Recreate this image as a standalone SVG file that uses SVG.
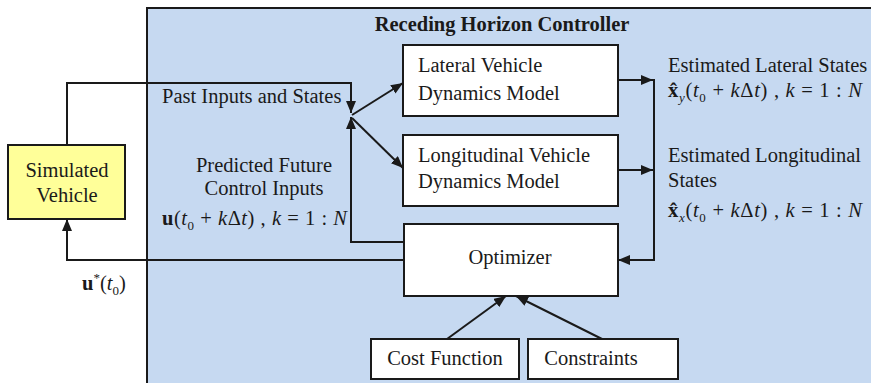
<svg xmlns="http://www.w3.org/2000/svg" width="871" height="383" viewBox="0 0 871 383">
<defs>
<style>
.box{fill:#ffffff;stroke:#1a1a1a;stroke-width:2}
.c{text-anchor:middle}
.ln{fill:none;stroke:#1a1a1a;stroke-width:2}
.i{font-style:italic}
.b{font-weight:bold}
</style>
<marker id="ah" markerWidth="12" markerHeight="10" refX="12" refY="5" orient="auto" markerUnits="userSpaceOnUse">
<path d="M0,0 L12,5 L0,10 z" fill="#1a1a1a"/>
</marker>
</defs>
<rect x="0" y="0" width="871" height="383" fill="#ffffff"/>
<g font-family="Liberation Serif" font-size="20.5" fill="#1a1a1a">
<g id="controller">
<rect x="147" y="8" width="740" height="400" fill="#C6D9F1" stroke="#1a1a1a" stroke-width="2"/>
<text class="b c" x="502" y="31">Receding Horizon Controller</text>
</g>
<g id="vehicle">
<rect x="8" y="145" width="117" height="74" fill="#FFFF99" stroke="#1a1a1a" stroke-width="2"/>
<text class="c" x="67" y="177">Simulated</text>
<text class="c" x="67" y="202">Vehicle</text>
</g>
<g id="lateral">
<rect class="box" x="403" y="45" width="215" height="71"/>
<text x="418" y="72">Lateral Vehicle</text>
<text x="418" y="100">Dynamics Model</text>
</g>
<g id="longitudinal">
<rect class="box" x="403" y="135" width="215" height="71"/>
<text x="418" y="162">Longitudinal Vehicle</text>
<text x="418" y="188">Dynamics Model</text>
</g>
<g id="optimizer">
<rect class="box" x="404" y="224" width="214" height="72"/>
<text class="c" x="510" y="264">Optimizer</text>
</g>
<g id="cost">
<rect class="box" x="371" y="339" width="148" height="40"/>
<text class="c" x="445" y="365">Cost Function</text>
</g>
<g id="constraints">
<rect class="box" x="528" y="339" width="150" height="40"/>
<text class="c" x="591" y="365">Constraints</text>
</g>
<g id="connectors">
<path class="ln" d="M67,145 V83 H351 V113" marker-end="url(#ah)"/>
<path class="ln" d="M404,242 H351 V117" marker-end="url(#ah)"/>
<path class="ln" d="M352,115 L403,83" marker-end="url(#ah)"/>
<path class="ln" d="M352,118 L403,168" marker-end="url(#ah)"/>
<path class="ln" d="M618,80 H653" marker-end="url(#ah)"/>
<path class="ln" d="M618,170 H653" marker-end="url(#ah)"/>
<path class="ln" d="M654,79 V260 H618" marker-end="url(#ah)"/>
<path class="ln" d="M404,260 H67 V219" marker-end="url(#ah)"/>
<path class="ln" d="M447,339 L506,296" marker-end="url(#ah)"/>
<path class="ln" d="M602,339 L516,296" marker-end="url(#ah)"/>
</g>
<g id="labels">
<text x="162" y="103">Past Inputs and States</text>
<text class="c" x="264" y="172">Predicted Future</text>
<text class="c" x="264" y="195">Control Inputs</text>
<text x="162" y="225" textLength="185" lengthAdjust="spacing"><tspan class="b">u</tspan>(<tspan class="i">t</tspan><tspan font-size="13" dy="5">0</tspan><tspan dy="-5"> + </tspan><tspan class="i">k</tspan>Δ<tspan class="i">t</tspan>) , <tspan class="i">k</tspan> = 1 : <tspan class="i">N</tspan></text>
<text x="82" y="290"><tspan class="b">u</tspan><tspan font-size="13" dy="-8">*</tspan><tspan dy="8">(</tspan><tspan class="i">t</tspan><tspan font-size="13" dy="5">0</tspan><tspan dy="-5">)</tspan></text>
<text x="668" y="72">Estimated Lateral States</text>
<text x="668" y="97" textLength="194" lengthAdjust="spacing"><tspan class="b">x̂</tspan><tspan class="i" font-size="13" dy="5">y</tspan><tspan dy="-5">(</tspan><tspan class="i">t</tspan><tspan font-size="13" dy="5">0</tspan><tspan dy="-5"> + </tspan><tspan class="i">k</tspan>Δ<tspan class="i">t</tspan>) , <tspan class="i">k</tspan> = 1 : <tspan class="i">N</tspan></text>
<text x="668" y="162">Estimated Longitudinal</text>
<text x="668" y="187">States</text>
<text x="668" y="217" textLength="194" lengthAdjust="spacing"><tspan class="b">x̂</tspan><tspan class="i" font-size="13" dy="5">x</tspan><tspan dy="-5">(</tspan><tspan class="i">t</tspan><tspan font-size="13" dy="5">0</tspan><tspan dy="-5"> + </tspan><tspan class="i">k</tspan>Δ<tspan class="i">t</tspan>) , <tspan class="i">k</tspan> = 1 : <tspan class="i">N</tspan></text>
</g>
</g>
</svg>
